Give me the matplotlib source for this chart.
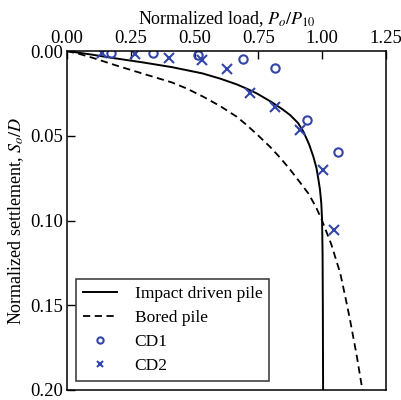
import matplotlib
matplotlib.use("Agg")
import matplotlib.pyplot as plt

# Courbes de référence (charge normalisée, tassement normalisé)
impact_x = [0.0, 0.10, 0.17, 0.30, 0.41, 0.53, 0.60, 0.665, 0.705, 0.743, 0.80, 0.845, 0.874, 0.905,
            0.926, 0.948, 0.965, 0.977, 0.985, 0.991, 0.996, 0.999, 1.001, 1.002, 1.003]
impact_y = [0.0, 0.0022, 0.0039, 0.0068, 0.0095, 0.0132, 0.0163, 0.0197, 0.0223, 0.025, 0.030, 0.0345, 0.0378, 0.0425,
            0.0476, 0.055, 0.0624, 0.069, 0.0761, 0.082, 0.090, 0.0997, 0.12, 0.15, 0.20]

bored_x = [0.0, 0.05, 0.10, 0.188, 0.30, 0.41, 0.47, 0.534, 0.60, 0.665, 0.704, 0.75, 0.795, 0.835, 0.874,
           0.91, 0.945, 0.975, 0.998, 1.035, 1.070, 1.09, 1.109, 1.135, 1.157]
bored_y = [0.0, 0.0018, 0.0040, 0.0083, 0.0135, 0.0185, 0.0222, 0.027, 0.0325, 0.0388, 0.0437, 0.050, 0.0565, 0.063, 0.070,
           0.077, 0.084, 0.092, 0.0997, 0.114, 0.131, 0.145, 0.159, 0.180, 0.200]

# Essais
cd1_x = [0.171, 0.338, 0.515, 0.691, 0.815, 0.939, 1.063]
cd1_y = [0.0014, 0.0014, 0.0024, 0.0047, 0.0102, 0.0407, 0.0594]

cd2_x = [0.138, 0.266, 0.40, 0.528, 0.626, 0.717, 0.815, 0.913, 1.004, 1.044]
cd2_y = [0.0014, 0.0020, 0.0040, 0.0053, 0.0106, 0.025, 0.0329, 0.0466, 0.070, 0.1056]

plt.rcParams['font.family'] = ['Liberation Serif', 'DejaVu Serif']
plt.rcParams['mathtext.fontset'] = 'stix'

bleu = '#3344AA'

fig = plt.figure(figsize=(4.01, 4.0), dpi=100)
ax = fig.add_axes([0.167, 0.025, 0.796, 0.8475])

ax.plot(impact_x, impact_y, color='black', lw=1.4, label='Impact driven pile')
ax.plot(bored_x, bored_y, color='black', lw=1.3, ls=(0, (4, 2.5)), label='Bored pile')
ax.plot(cd1_x, cd1_y, ls='none', marker='o', ms=6, mfc='none', mec=bleu, mew=1.5, label='CD1')
ax.plot(cd2_x, cd2_y, ls='none', marker='x', ms=6.5, mec=bleu, mew=1.5, label='CD2')

ax.set_xlim(0, 1.25)
ax.set_ylim(0.2, 0.0)
ax.xaxis.tick_top()
ax.xaxis.set_label_position('top')
ax.set_xticks([0, 0.25, 0.5, 0.75, 1.0, 1.25])
ax.set_yticks([0, 0.05, 0.10, 0.15, 0.20])
ax.xaxis.set_major_formatter(matplotlib.ticker.FormatStrFormatter('%.2f'))
ax.yaxis.set_major_formatter(matplotlib.ticker.FormatStrFormatter('%.2f'))
ax.tick_params(direction='in', length=6, width=1, labelsize=13.5, pad=3)
for s in ax.spines.values():
    s.set_linewidth(1.1)

ax.set_xlabel(r'Normalized load, $P_o/P_{10}$', fontsize=13, labelpad=4)
ax.set_ylabel(r'Normalized settlement, $S_o/D$', fontsize=13, labelpad=3)

leg = ax.legend(loc='lower left', fontsize=12.5, frameon=True, fancybox=False,
                edgecolor='black', handlelength=2.0, borderaxespad=0.5,
                labelspacing=0.45, handletextpad=1.0, markerscale=0.75,
                borderpad=0.4)
leg.get_frame().set_linewidth(1.1)

fig.savefig('out.png', dpi=100)
